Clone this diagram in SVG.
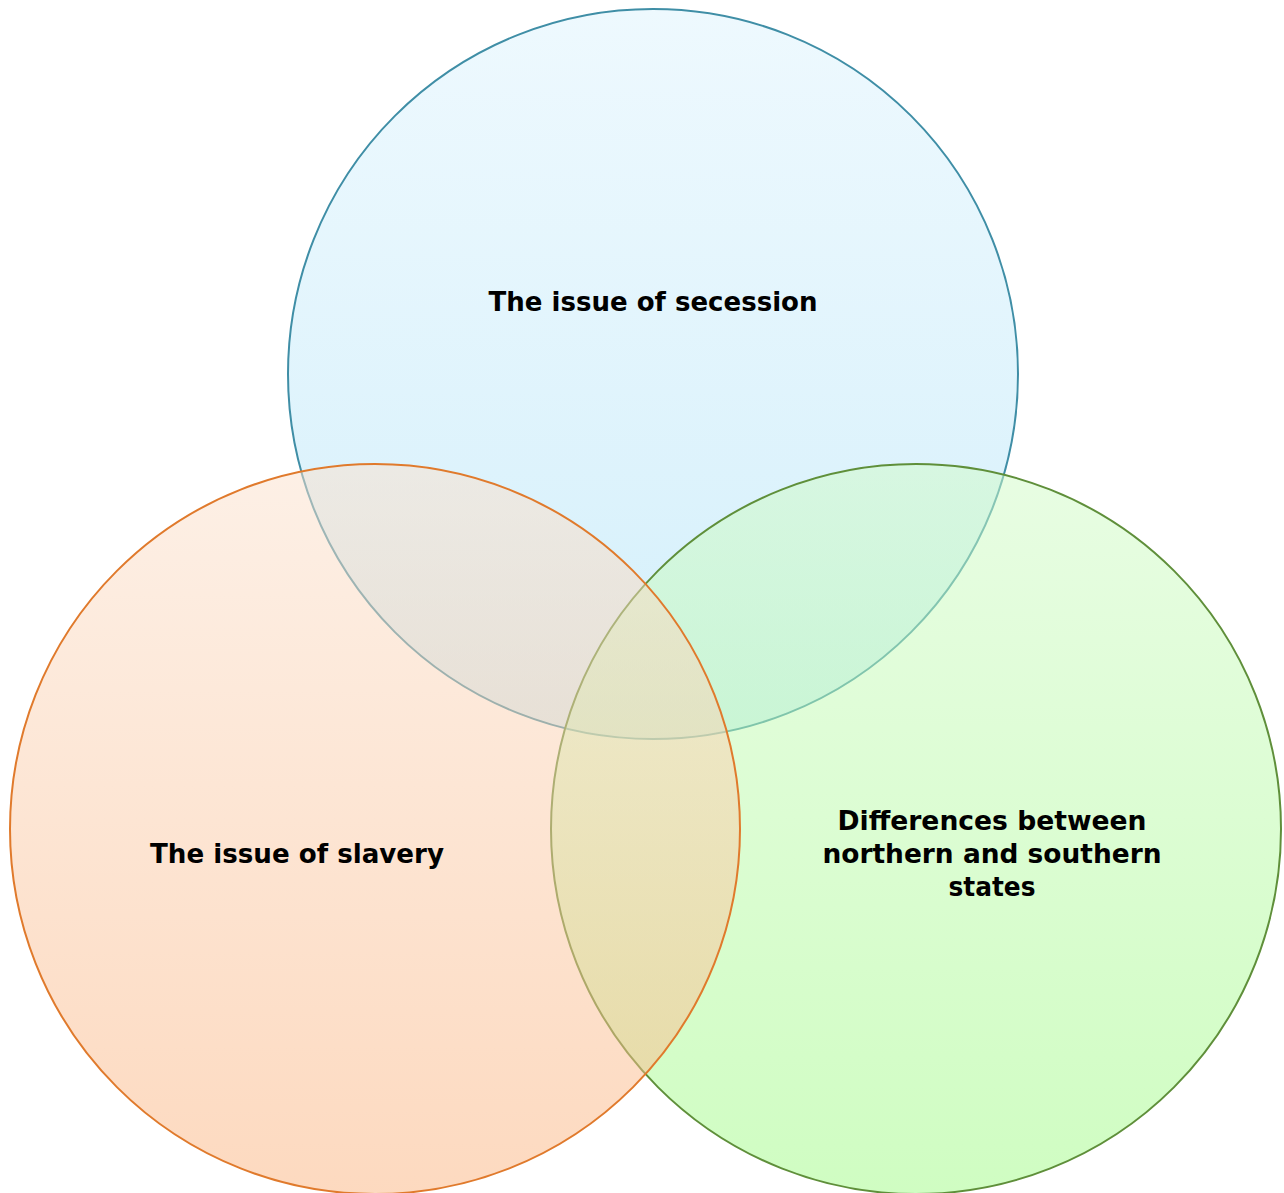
<svg xmlns="http://www.w3.org/2000/svg" width="1284" height="1193" viewBox="0 0 1284 1193">
<defs>
<linearGradient id="gTop" x1="0" y1="0" x2="0" y2="1">
<stop offset="0" stop-color="rgb(221,243,253)"/>
<stop offset="1" stop-color="rgb(168,224,247)"/>
</linearGradient>
<linearGradient id="gLeft" x1="0" y1="0" x2="0" y2="1">
<stop offset="0" stop-color="rgb(251,225,205)"/>
<stop offset="1" stop-color="rgb(251,180,128)"/>
</linearGradient>
<linearGradient id="gRight" x1="0" y1="0" x2="0" y2="1">
<stop offset="0" stop-color="rgb(209,251,199)"/>
<stop offset="1" stop-color="rgb(160,251,133)"/>
</linearGradient>
</defs>
<style>
.c{fill-opacity:0.5;stroke-width:2}
.t{font-family:"DejaVu Sans",Verdana,sans-serif;font-weight:bold;font-size:26px;fill:#000;text-anchor:middle}
</style>
<rect width="1284" height="1193" fill="#fff"/>
<g id="node-secession">
<circle class="c" cx="653" cy="374" r="365" fill="url(#gTop)" stroke="#3f8ea6"/>
<text class="t" x="653" y="311" textLength="329" lengthAdjust="spacingAndGlyphs">The issue of secession</text>
</g>
<g id="node-differences">
<circle class="c" cx="916" cy="829" r="365" fill="url(#gRight)" stroke="#5f8f3a"/>
<text class="t" x="992" y="830" textLength="309" lengthAdjust="spacingAndGlyphs">Differences between</text>
<text class="t" x="992" y="863" textLength="339" lengthAdjust="spacingAndGlyphs">northern and southern</text>
<text class="t" x="992" y="896" textLength="87" lengthAdjust="spacingAndGlyphs">states</text>
</g>
<g id="node-slavery">
<circle class="c" cx="375" cy="829" r="365" fill="url(#gLeft)" stroke="#e07a2c"/>
<text class="t" x="297" y="863" textLength="294" lengthAdjust="spacingAndGlyphs">The issue of slavery</text>
</g>
<g id="connectors"/>
</svg>
